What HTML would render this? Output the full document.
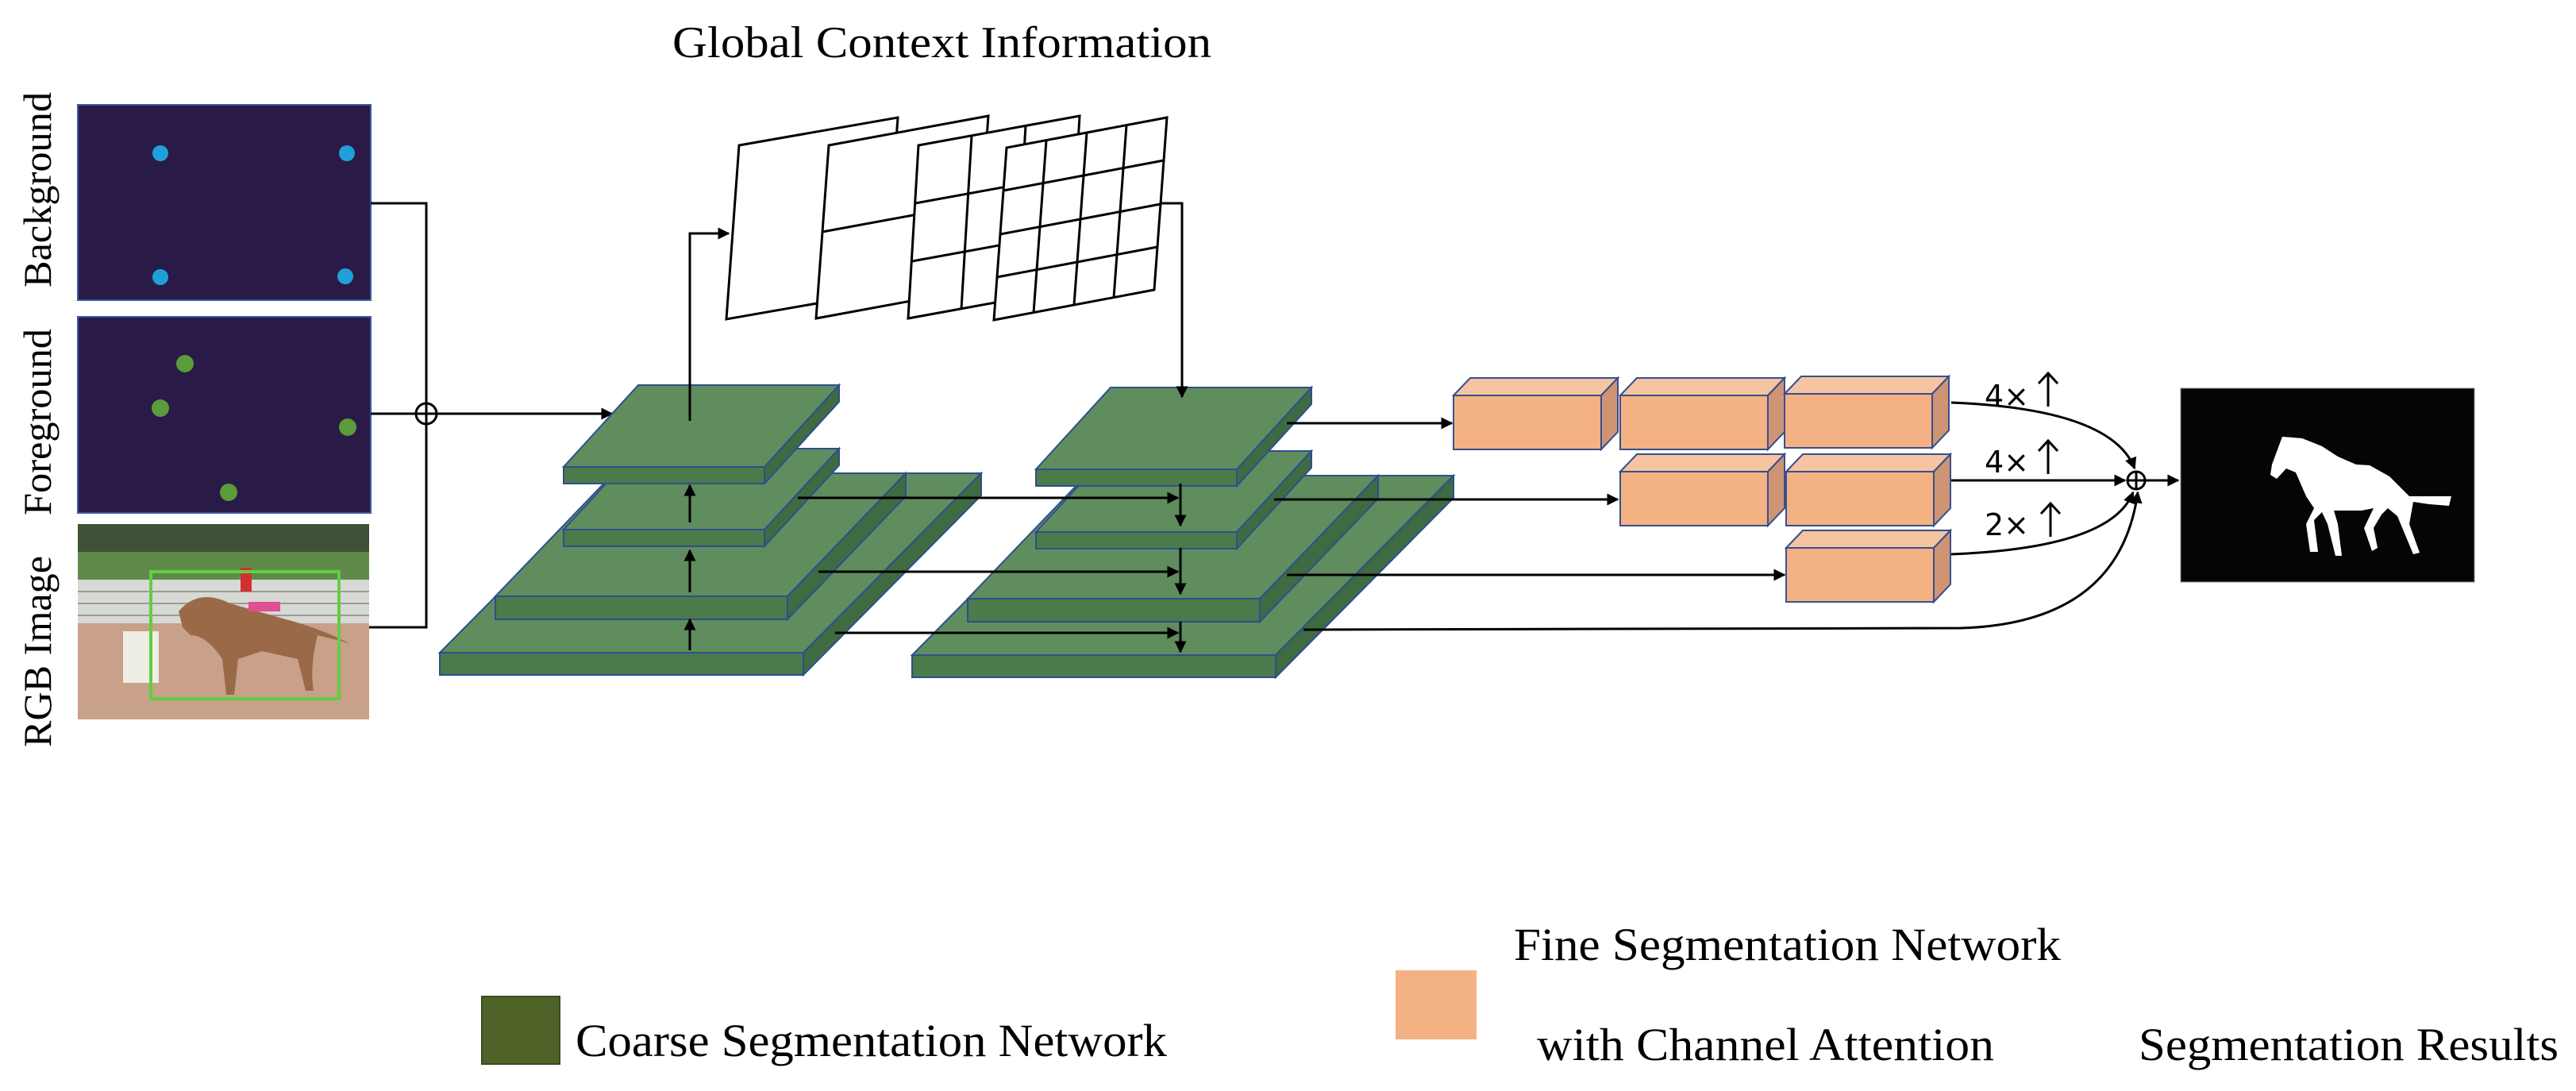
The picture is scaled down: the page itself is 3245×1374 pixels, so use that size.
<!DOCTYPE html>
<html><head><meta charset="utf-8"><style>html,body{margin:0;padding:0;background:#fff}svg{display:block}</style></head>
<body>
<svg width="3245" height="1374" viewBox="0 0 3245 1374" xmlns="http://www.w3.org/2000/svg">
<defs>
<marker id="ah" viewBox="0 0 10 10" refX="9" refY="5" markerWidth="5" markerHeight="5" orient="auto-start-reverse"><path d="M0,0 L10,5 L0,10 z" fill="#000"/></marker>
<g id="pyr">
  <polygon points="554,822 1012,822 1236,596 778,596" fill="#5f8d5e" stroke="#2d4f8f" stroke-width="2"/>
  <rect x="554" y="822" width="458" height="28" fill="#4b7a4b" stroke="#2d4f8f" stroke-width="2"/>
  <polygon points="1012,822 1236,596 1236,624 1012,850" fill="#3f6b42" stroke="#2d4f8f" stroke-width="2"/>
  <polygon points="624,751 992,751 1141,596 773,596" fill="#5f8d5e" stroke="#2d4f8f" stroke-width="2"/>
  <rect x="624" y="751" width="368" height="29" fill="#4b7a4b" stroke="#2d4f8f" stroke-width="2"/>
  <polygon points="992,751 1141,596 1141,625 992,780" fill="#3f6b42" stroke="#2d4f8f" stroke-width="2"/>
  <polygon points="710,667 963,667 1057,565 804,565" fill="#5f8d5e" stroke="#2d4f8f" stroke-width="2"/>
  <rect x="710" y="667" width="253" height="21" fill="#4b7a4b" stroke="#2d4f8f" stroke-width="2"/>
  <polygon points="963,667 1057,565 1057,586 963,688" fill="#3f6b42" stroke="#2d4f8f" stroke-width="2"/>
  <polygon points="710,588 963,588 1057,485 804,485" fill="#5f8d5e" stroke="#2d4f8f" stroke-width="2"/>
  <rect x="710" y="588" width="253" height="21" fill="#4b7a4b" stroke="#2d4f8f" stroke-width="2"/>
  <polygon points="963,588 1057,485 1057,506 963,609" fill="#3f6b42" stroke="#2d4f8f" stroke-width="2"/>
</g>
<g id="box">
  <polygon points="0,22 21,0 207,0 186,22" fill="#f6c4a1" stroke="#34508f" stroke-width="2"/>
  <rect x="0" y="22" width="186" height="68" fill="#f4b183" stroke="#34508f" stroke-width="2"/>
  <polygon points="186,22 207,0 207,68 186,90" fill="#cf9474" stroke="#34508f" stroke-width="2"/>
</g>
</defs>

<text x="847" y="72" font-family="Liberation Serif, serif" font-size="56" textLength="679" lengthAdjust="spacingAndGlyphs">Global Context Information</text>

<g font-family="Liberation Serif, serif" font-size="50">
<text transform="translate(64,362) rotate(-90)" textLength="246" lengthAdjust="spacingAndGlyphs">Background</text>
<text transform="translate(64,649) rotate(-90)" textLength="235" lengthAdjust="spacingAndGlyphs">Foreground</text>
<text transform="translate(64,941) rotate(-90)" textLength="241" lengthAdjust="spacingAndGlyphs">RGB Image</text>
</g>

<rect x="98" y="132" width="369" height="246" fill="#2a1a47" stroke="#3a5aa0" stroke-width="2"/>
<g fill="#1fa0d8"><circle cx="202" cy="193" r="10"/><circle cx="437" cy="193" r="10"/><circle cx="202" cy="349" r="10"/><circle cx="435" cy="348" r="10"/></g>
<rect x="98" y="399" width="369" height="247" fill="#2a1a47" stroke="#3a5aa0" stroke-width="2"/>
<g fill="#5a9b3a"><circle cx="233" cy="458" r="11"/><circle cx="202" cy="514" r="11"/><circle cx="438" cy="538" r="11"/><circle cx="288" cy="620" r="11"/></g>

<g>
<rect x="98" y="660" width="367" height="246" fill="#c49a82"/>
<rect x="98" y="660" width="367" height="35" fill="#3f5238"/>
<rect x="98" y="695" width="367" height="35" fill="#5f8a4a"/>
<rect x="98" y="730" width="367" height="55" fill="#d8d8d4"/>
<g stroke="#9a9a9a" stroke-width="2"><line x1="98" y1="745" x2="465" y2="745"/><line x1="98" y1="760" x2="465" y2="760"/><line x1="98" y1="775" x2="465" y2="775"/></g>
<rect x="98" y="785" width="367" height="121" fill="#c9a08a"/>
<rect x="155" y="795" width="45" height="65" fill="#eeeee6"/>
<path d="M225,770 Q250,740 290,760 L360,780 Q400,790 440,810 L400,800 Q390,840 395,870 L385,870 L375,830 L330,820 L300,830 L295,875 L285,875 L280,830 Q260,800 240,800 L230,790 Z" fill="#9a6a48"/>
<rect x="303" y="715" width="14" height="30" fill="#d03030"/>
<rect x="313" y="758" width="40" height="12" fill="#e05090"/>
<rect x="190" y="720" width="237" height="160" fill="none" stroke="#5fd040" stroke-width="4"/>
</g>

<g stroke="#000" stroke-width="3" fill="none">
<polyline points="467,256 537,256 537,790 465,790"/>
<line x1="467" y1="521" x2="771" y2="521" marker-end="url(#ah)"/>
<circle cx="537" cy="521" r="13" fill="#fff"/>
<line x1="537" y1="508" x2="537" y2="534"/><line x1="524" y1="521" x2="550" y2="521"/>
</g>

<use href="#pyr"/>
<use href="#pyr" transform="translate(595,3)"/>

<g fill="#fff" stroke="#000" stroke-width="3">
<polygon points="931,183 1131,148 1115,367 915,402"/>
<polygon points="1044,183 1245,146 1229,364 1028,401"/>
<line x1="1036" y1="292" x2="1237" y2="255"/>
<polygon points="1157,183 1360,146 1347,364 1144,401"/>
<g fill="none"><line x1="1224" y1="171" x2="1211" y2="389"/><line x1="1292" y1="158" x2="1279" y2="376"/>
<line x1="1153" y1="256" x2="1356" y2="219"/><line x1="1149" y1="329" x2="1352" y2="292"/></g>
<polygon points="1268,186 1470,148 1454,365 1252,403"/>
<g fill="none"><line x1="1318" y1="177" x2="1302" y2="394"/><line x1="1369" y1="167" x2="1353" y2="384"/><line x1="1419" y1="158" x2="1403" y2="375"/>
<line x1="1264" y1="240" x2="1466" y2="202"/><line x1="1260" y1="295" x2="1462" y2="257"/><line x1="1256" y1="349" x2="1458" y2="311"/></g>
</g>

<g stroke="#000" stroke-width="3" fill="none">
<polyline points="869,530 869,294 918,294" marker-end="url(#ah)"/>
<polyline points="1462,256 1489,256 1489,500" marker-end="url(#ah)"/>
<line x1="869" y1="658" x2="869" y2="611" marker-end="url(#ah)"/>
<line x1="869" y1="746" x2="869" y2="693" marker-end="url(#ah)"/>
<line x1="869" y1="819" x2="869" y2="780" marker-end="url(#ah)"/>
<line x1="1005" y1="627" x2="1484" y2="627" marker-end="url(#ah)"/>
<line x1="1031" y1="720" x2="1484" y2="720" marker-end="url(#ah)"/>
<line x1="1052" y1="797" x2="1484" y2="797" marker-end="url(#ah)"/>
<line x1="1487" y1="609" x2="1487" y2="662" marker-end="url(#ah)"/>
<line x1="1487" y1="690" x2="1487" y2="748" marker-end="url(#ah)"/>
<line x1="1487" y1="783" x2="1487" y2="821" marker-end="url(#ah)"/>
</g>

<use href="#box" transform="translate(1831,476)"/>
<use href="#box" transform="translate(2041,476)"/>
<use href="#box" transform="translate(2248,474)"/>
<use href="#box" transform="translate(2041,572)"/>
<use href="#box" transform="translate(2250,572)"/>
<use href="#box" transform="translate(2250,668)"/>

<g stroke="#000" stroke-width="3" fill="none">
<line x1="1621" y1="533" x2="1829" y2="533" marker-end="url(#ah)"/>
<line x1="1605" y1="629" x2="2038" y2="629" marker-end="url(#ah)"/>
<line x1="1621" y1="724" x2="2248" y2="724" marker-end="url(#ah)"/>
<path d="M1642,793 L2470,791 Q2670,785 2693,620" marker-end="url(#ah)"/>
<path d="M2458,507 Q2660,515 2689,590" marker-end="url(#ah)"/>
<line x1="2458" y1="605" x2="2677" y2="605" marker-end="url(#ah)"/>
<path d="M2458,698 Q2660,690 2687,620" marker-end="url(#ah)"/>
<line x1="2703" y1="605" x2="2744" y2="605" marker-end="url(#ah)"/>
<circle cx="2691" cy="605" r="11" fill="#fff"/>
<line x1="2691" y1="594" x2="2691" y2="616"/><line x1="2680" y1="605" x2="2702" y2="605"/>
</g>
<g font-family="DejaVu Sans, sans-serif" font-size="38">
<text x="2500" y="512">4×</text><text x="2500" y="595">4×</text><text x="2500" y="674">2×</text>
</g>
<g stroke="#000" stroke-width="3" fill="none">
<path d="M2580,512 V470 M2568,483 L2580,470 L2592,483"/>
<path d="M2580,597 V555 M2568,568 L2580,555 L2592,568"/>
<path d="M2583,676 V634 M2571,647 L2583,634 L2595,647"/>
</g>

<rect x="2747" y="489" width="370" height="244" fill="#050505" stroke="#888" stroke-width="1"/>
<path d="M2875,550 L2900,552 L2925,562 L2945,575 L2968,585 L2985,586 L3010,600 L3035,625 L3088,625 L3085,637 L3060,635 L3040,632 L3035,660 L3048,696 L3040,698 L3020,650 L3008,640 L3000,648 L2990,665 L2995,690 L2988,694 L2978,665 L2990,640 L2975,643 L2940,643 L2945,660 L2950,700 L2942,700 L2932,660 L2925,645 L2915,655 L2920,695 L2910,695 L2905,660 L2915,640 L2905,625 L2892,595 L2880,590 L2868,603 L2860,598 L2862,585 Z" fill="#fff"/>

<rect x="607" y="1255" width="98" height="85" fill="#4f6329" stroke="#3a4a1f" stroke-width="2"/>
<rect x="1758" y="1222" width="102" height="87" fill="#f4b183"/>
<g font-family="Liberation Serif, serif" font-size="58">
<text x="725" y="1330" textLength="745" lengthAdjust="spacingAndGlyphs">Coarse Segmentation Network</text>
<text x="1907" y="1209" textLength="689" lengthAdjust="spacingAndGlyphs">Fine Segmentation Network</text>
<text x="1936" y="1335" textLength="576" lengthAdjust="spacingAndGlyphs">with Channel Attention</text>
<text x="2694" y="1335" textLength="529" lengthAdjust="spacingAndGlyphs">Segmentation Results</text>
</g>
</svg>
</body></html>
